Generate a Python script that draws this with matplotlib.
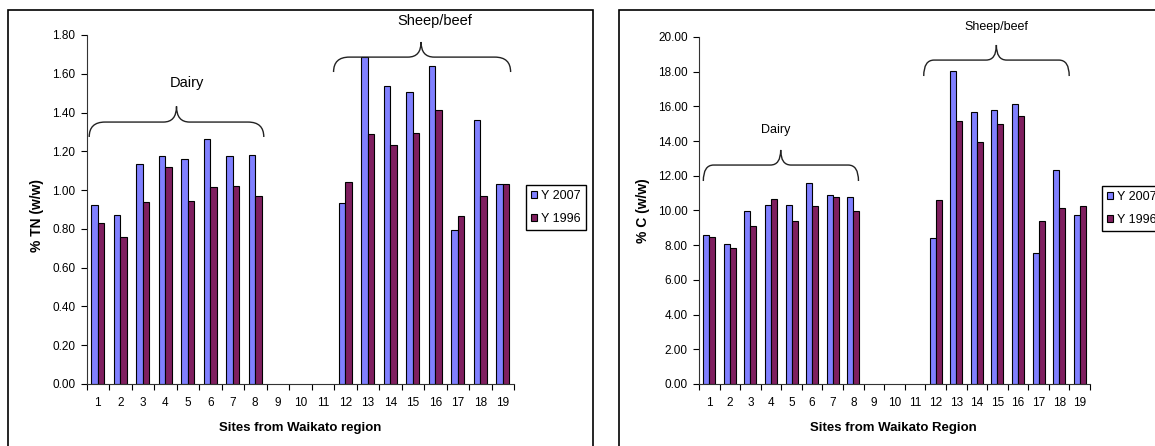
import numpy as np
import matplotlib
matplotlib.use("Agg")
import matplotlib.pyplot as plt
from matplotlib.patches import Rectangle, PathPatch
from matplotlib.path import Path

plt.rcParams['font.family'] = ['Liberation Sans', 'DejaVu Sans']

nan = np.nan
sites = [str(i) for i in range(1, 20)]

# % total nitrogen
tn_2007 = [0.925, 0.87, 1.133, 1.174, 1.16, 1.265, 1.174, 1.179, nan, nan, nan,
           0.932, 1.685, 1.539, 1.508, 1.64, 0.796, 1.362, 1.03]
tn_1996 = [0.829, 0.76, 0.937, 1.119, 0.942, 1.014, 1.021, 0.968, nan, nan, nan,
           1.043, 1.289, 1.234, 1.294, 1.411, 0.868, 0.968, 1.03]

# % carbon
c_2007 = [8.56, 8.08, 9.98, 10.33, 10.33, 11.61, 10.90, 10.79, nan, nan, nan,
          8.43, 18.05, 15.69, 15.77, 16.15, 7.53, 12.36, 9.73]
c_1996 = [8.48, 7.81, 9.08, 10.65, 9.37, 10.25, 10.75, 9.98, nan, nan, nan,
          10.59, 15.13, 13.93, 14.96, 15.42, 9.39, 10.13, 10.26]

years = ['Y 2007', 'Y 1996']
blue = '#8080FF'
maroon = '#7F1F5F'


def brace(ax, x0, x1, xm, y_line, y_end, y_tip, rx, rt):
    verts = [(x0, y_end), (x0, y_line), (x0 + rx, y_line),
             (xm - rt, y_line), (xm, y_line), (xm, y_tip),
             (xm, y_line), (xm + rt, y_line),
             (x1 - rx, y_line), (x1, y_line), (x1, y_end)]
    codes = [Path.MOVETO, Path.CURVE3, Path.CURVE3,
             Path.LINETO, Path.CURVE3, Path.CURVE3,
             Path.CURVE3, Path.CURVE3,
             Path.LINETO, Path.CURVE3, Path.CURVE3]
    ax.add_patch(PathPatch(Path(verts, codes), fill=False, lw=1.0,
                           ec='#222222', clip_on=False))


def panel(ax, v07, v96, ymax, ystep, ylabel, xlabel):
    x = np.arange(len(sites))
    w = 0.29
    b1 = ax.bar(x - w / 2, v07, w, color=blue, edgecolor='black', lw=0.8)
    b2 = ax.bar(x + w / 2, v96, w, color=maroon, edgecolor='black', lw=0.8)
    ax.set_xlim(-0.5, len(sites) - 0.5)
    ax.set_ylim(0, ymax)
    ax.set_yticks(np.arange(0, ymax + ystep / 2, ystep))
    ax.yaxis.set_major_formatter(matplotlib.ticker.FormatStrFormatter('%.2f'))
    ax.set_xticks(x)
    ax.set_xticklabels(sites)
    ax.set_xticks(np.arange(-0.5, len(sites)), minor=True)
    ax.tick_params(axis='x', which='major', length=0, pad=9.5, labelsize=8.5)
    ax.tick_params(axis='x', which='minor', length=4, direction='out', width=0.8)
    ax.tick_params(axis='y', length=4, direction='out', width=0.8, pad=4, labelsize=8.5)
    for s in ['top', 'right']:
        ax.spines[s].set_visible(False)
    for s in ['left', 'bottom']:
        ax.spines[s].set_color('#333333')
        ax.spines[s].set_linewidth(0.8)
    ax.set_ylabel(ylabel, fontsize=10, fontweight='bold')
    ax.set_xlabel(xlabel, fontsize=9.5, fontweight='bold')
    return b1, b2


fig = plt.figure(figsize=(11.55, 4.46), dpi=100)

# panel borders
fig.add_artist(Rectangle((8 / 1155, -0.1), 584.5 / 1155, 1.1 - 10 / 446,
                         transform=fig.transFigure, fill=False, lw=1.2, ec='black'))
fig.add_artist(Rectangle((618.5 / 1155, -0.1), 0.6, 1.1 - 10 / 446,
                         transform=fig.transFigure, fill=False, lw=1.2, ec='black'))

ax1 = fig.add_axes([86.5 / 1155, 62 / 446, 427.5 / 1155, 349 / 446])
h1 = panel(ax1, tn_2007, tn_1996, 1.8, 0.2, '% TN (w/w)', 'Sites from Waikato region')
ax1.yaxis.set_label_coords(-0.1, 0.482)
ax1.xaxis.set_label_coords(0.5, -0.11)
brace(ax1, -0.38, 7.38, 3.5, 1.351, 1.274, 1.432, 0.7, 0.58)
brace(ax1, 10.48, 18.35, 14.37, 1.686, 1.609, 1.764, 0.7, 0.58)
ax1.text(3.96, 1.552, 'Dairy', ha='center', va='center', fontsize=10.5, clip_on=False)
ax1.text(15.0, 1.872, 'Sheep/beef', ha='center', va='center', fontsize=10.5, clip_on=False)
ax1.legend(h1, years, loc='upper left', bbox_to_anchor=(525.7 / 1155, 261 / 446),
           bbox_transform=fig.transFigure, borderaxespad=0, fontsize=9,
           handlelength=0.5, handleheight=0.5, handletextpad=0.35,
           labelspacing=0.9, borderpad=0.4, fancybox=False, framealpha=1,
           edgecolor='black', frameon=True)

ax2 = fig.add_axes([699 / 1155, 62 / 446, 391 / 1155, 347 / 446])
h2 = panel(ax2, c_2007, c_1996, 20, 2, '% C (w/w)', 'Sites from Waikato Region')
ax2.yaxis.set_label_coords(-0.125, 0.5)
ax2.xaxis.set_label_coords(0.497, -0.11)
brace(ax2, -0.29, 7.25, 3.47, 12.62, 11.7, 13.49, 0.5, 0.5)
brace(ax2, 10.42, 17.49, 13.95, 18.67, 17.75, 19.54, 0.5, 0.5)
ax2.text(3.25, 14.64, 'Dairy', ha='center', va='center', fontsize=9, clip_on=False)
ax2.text(13.95, 20.58, 'Sheep/beef', ha='center', va='center', fontsize=9, clip_on=False)
ax2.legend(h2, years, loc='upper left', bbox_to_anchor=(1101.7 / 1155, 260 / 446),
           bbox_transform=fig.transFigure, borderaxespad=0, fontsize=9,
           handlelength=0.5, handleheight=0.5, handletextpad=0.35,
           labelspacing=0.9, borderpad=0.4, fancybox=False, framealpha=1,
           edgecolor='black', frameon=True)

fig.savefig('out.png', dpi=100)
